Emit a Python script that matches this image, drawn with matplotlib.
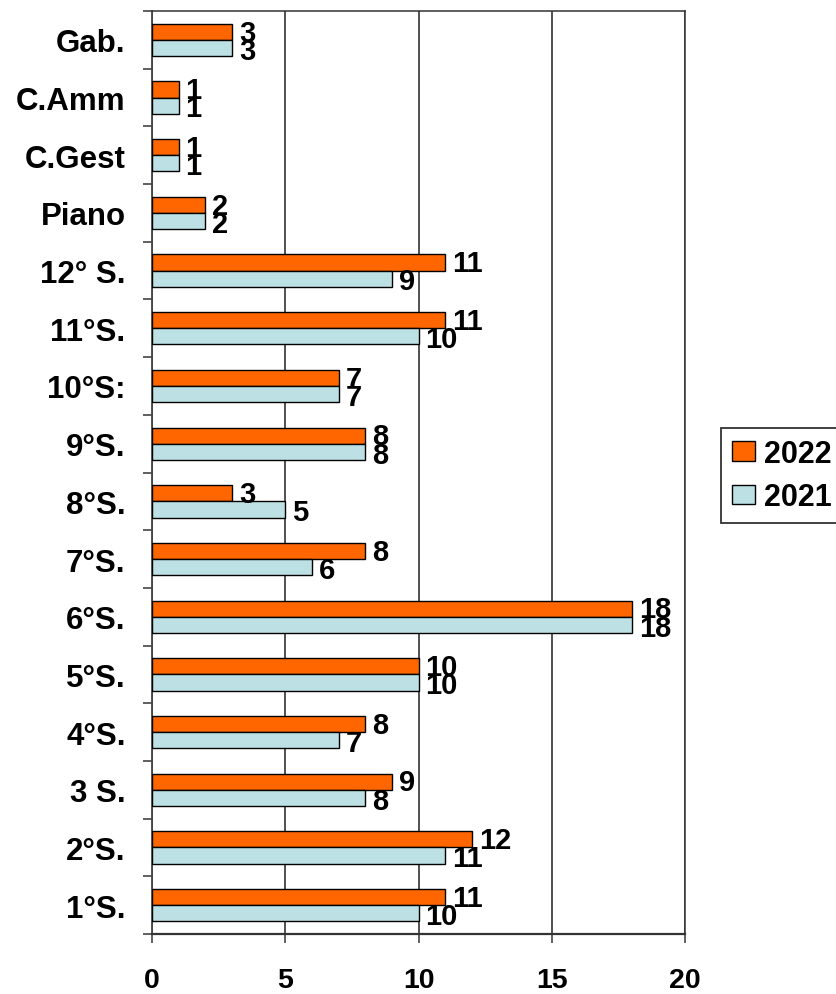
import matplotlib
matplotlib.use('Agg')
import matplotlib.pyplot as plt
import numpy as np

plt.rcParams['font.family'] = ['Liberation Sans', 'DejaVu Sans']
plt.rcParams['font.weight'] = 'bold'

classi = ['1°S.', '2°S.', '3 S.', '4°S.', '5°S.', '6°S.', '7°S.', '8°S.',
          '9°S.', '10°S:', '11°S.', '12° S.', 'Piano', 'C.Gest', 'C.Amm', 'Gab.']
anno_2022 = [11, 12, 9, 8, 10, 18, 8, 3, 8, 7, 11, 11, 2, 1, 1, 3]
anno_2021 = [10, 11, 8, 7, 10, 18, 6, 5, 8, 7, 10, 9, 2, 1, 1, 3]

col_2022 = '#FF6600'
col_2021 = '#BCE0E3'

fig = plt.figure(figsize=(8.36, 9.95), dpi=100)
ax = fig.add_axes([0.1818, 0.0603, 0.8194 - 0.1818, 0.9879 - 0.0603])

y = np.arange(len(classi))
h = 0.28
ax.barh(y + h / 2, anno_2022, height=h, color=col_2022, edgecolor='black', linewidth=1, label='2022', zorder=3)
ax.barh(y - h / 2, anno_2021, height=h, color=col_2021, edgecolor='black', linewidth=1, label='2021', zorder=3)

# value labels at the end of each bar
for yi, v in zip(y, anno_2022):
    ax.annotate(str(v), (v, yi + h / 2), xytext=(5, -0.5), textcoords='offset points',
                ha='left', va='center', fontsize=21, fontweight='bold', zorder=4)
for yi, v in zip(y, anno_2021):
    ax.annotate(str(v), (v, yi - h / 2), xytext=(5, -2), textcoords='offset points',
                ha='left', va='center', fontsize=21, fontweight='bold', zorder=4)

ax.set_xlim(0, 20)
ax.set_ylim(-0.5, len(classi) - 0.5)
ax.set_xticks([0, 5, 10, 15, 20])
ax.set_yticks(y)
ax.set_yticklabels(classi)
ax.set_yticks(np.arange(-0.5, len(classi)), minor=True)

ax.tick_params(axis='y', which='major', length=0, pad=19, labelsize=22.5)
ax.tick_params(axis='y', which='minor', length=6.5, width=1.2, color='#444444')
ax.tick_params(axis='x', which='major', length=6.5, width=1.2, color='#444444', pad=17, labelsize=20.5)

ax.grid(axis='x', color='#222222', linewidth=1.1, zorder=0)
for s in ['top', 'right']:
    ax.spines[s].set_color('#333333')
    ax.spines[s].set_linewidth(1.1)
ax.spines['left'].set_color('#444444')
ax.spines['left'].set_linewidth(1.3)
ax.spines['bottom'].set_color('#333333')
ax.spines['bottom'].set_linewidth(1.6)

leg = fig.legend(loc='upper left', bbox_to_anchor=(0.8624, 0.5688), fontsize=22,
                 fancybox=False, edgecolor='#333333', framealpha=1,
                 handlelength=0.75, handleheight=0.6, handletextpad=0.3,
                 labelspacing=0.45, borderpad=0.35, borderaxespad=0)
leg.get_frame().set_linewidth(1.3)

fig.savefig('out.png', dpi=100)
